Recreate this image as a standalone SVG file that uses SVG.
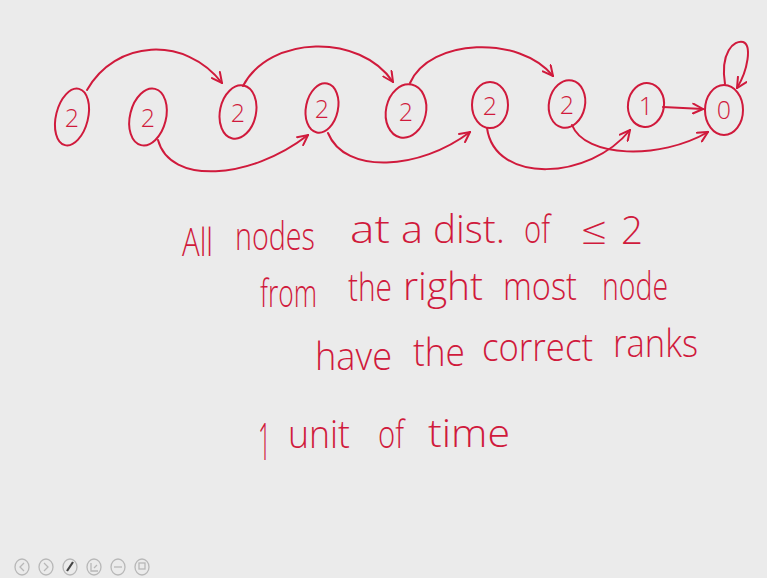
<svg xmlns="http://www.w3.org/2000/svg" width="767" height="578" viewBox="0 0 767 578">
<defs>
<style>
.n{fill:none;stroke:#d01a3c;stroke-width:2}
.c{fill:none;stroke:#d01a3c;stroke-width:2;stroke-linecap:round}
.lbl{font-family:"Open Sans","Liberation Sans",sans-serif;font-weight:300;font-size:25px;fill:#d01a3c;text-anchor:middle;dominant-baseline:central}
.t{font-family:"Open Sans","Liberation Sans",sans-serif;font-weight:300;font-size:38px;fill:#d01a3c}
.ic{fill:none;stroke:#b8b8b8;stroke-width:1.3}
</style>
<marker id="ah" viewBox="0 0 12 12" refX="11" refY="6" markerWidth="12" markerHeight="12" markerUnits="userSpaceOnUse" orient="auto">
<path d="M1,1 L11,6 L1,11" fill="none" stroke="#d01a3c" stroke-width="2" stroke-linecap="round"/>
</marker>
</defs>
<rect width="767" height="578" fill="#ebebeb"/>

<g id="connectors">
<path class="c" d="M87,90 C115,40 185,35 222,83" marker-end="url(#ah)"/>
<path class="c" d="M243,86 C270,35 360,33 393,82" marker-end="url(#ah)"/>
<path class="c" d="M410,83 C430,38 520,35 553,76" marker-end="url(#ah)"/>
<path class="c" d="M158,140 C170,185 250,180 308,135" marker-end="url(#ah)"/>
<path class="c" d="M328,133 C345,175 420,170 470,132" marker-end="url(#ah)"/>
<path class="c" d="M487,128 C495,185 590,180 630,130" marker-end="url(#ah)"/>
<path class="c" d="M572,125 C585,158 660,160 708,132" marker-end="url(#ah)"/>
<path class="c" d="M663,107 L703,109" marker-end="url(#ah)"/>
<path class="c" d="M725,84 C720,52 734,40 743,42 C752,45 748,70 737,88" marker-end="url(#ah)"/>
</g>

<g id="node1"><ellipse class="n" cx="72" cy="117" rx="16" ry="29" transform="rotate(14 72 117)"/><text class="lbl" x="72" y="117">2</text></g>
<g id="node2"><ellipse class="n" cx="148" cy="117" rx="18" ry="29" transform="rotate(14 148 117)"/><text class="lbl" x="148" y="117">2</text></g>
<g id="node3"><ellipse class="n" cx="238" cy="112" rx="18" ry="27" transform="rotate(12 238 112)"/><text class="lbl" x="238" y="112">2</text></g>
<g id="node4"><ellipse class="n" cx="322" cy="108" rx="16" ry="25" transform="rotate(12 322 108)"/><text class="lbl" x="322" y="108">2</text></g>
<g id="node5"><ellipse class="n" cx="406" cy="111" rx="20" ry="27" transform="rotate(12 406 111)"/><text class="lbl" x="406" y="111">2</text></g>
<g id="node6"><ellipse class="n" cx="490" cy="105" rx="18" ry="23"/><text class="lbl" x="490" y="105">2</text></g>
<g id="node7"><ellipse class="n" cx="567" cy="104" rx="18" ry="24" transform="rotate(12 567 104)"/><text class="lbl" x="567" y="104">2</text></g>
<g id="node8"><ellipse class="n" cx="646" cy="105" rx="18" ry="22" transform="rotate(8 646 105)"/><text class="lbl" x="646" y="105">1</text></g>
<g id="node9"><ellipse class="n" cx="724" cy="110" rx="19" ry="25"/><text class="lbl" x="724" y="109">0</text></g>

<g id="notes">
<text class="t" x="182" y="256" textLength="31" lengthAdjust="spacingAndGlyphs">All</text>
<text class="t" x="235" y="250" textLength="80" lengthAdjust="spacingAndGlyphs">nodes</text>
<text class="t" x="350" y="243" textLength="40" lengthAdjust="spacingAndGlyphs">at</text>
<text class="t" x="401" y="243" textLength="22" lengthAdjust="spacingAndGlyphs">a</text>
<text class="t" x="433" y="243" textLength="72" lengthAdjust="spacingAndGlyphs">dist.</text>
<text class="t" x="524" y="243" textLength="26" lengthAdjust="spacingAndGlyphs">of</text>
<text class="t" x="581" y="244" textLength="26" lengthAdjust="spacingAndGlyphs">≤</text>
<text class="t" x="621" y="244" textLength="22" lengthAdjust="spacingAndGlyphs">2</text>

<text class="t" x="260" y="307" textLength="57" lengthAdjust="spacingAndGlyphs">from</text>
<text class="t" x="348" y="301" textLength="44" lengthAdjust="spacingAndGlyphs">the</text>
<text class="t" x="403" y="300" textLength="80" lengthAdjust="spacingAndGlyphs">right</text>
<text class="t" x="503" y="300" textLength="74" lengthAdjust="spacingAndGlyphs">most</text>
<text class="t" x="602" y="300" textLength="66" lengthAdjust="spacingAndGlyphs">node</text>

<text class="t" x="315" y="370" textLength="77" lengthAdjust="spacingAndGlyphs">have</text>
<text class="t" x="413" y="366" textLength="52" lengthAdjust="spacingAndGlyphs">the</text>
<text class="t" x="482" y="361" textLength="111" lengthAdjust="spacingAndGlyphs">correct</text>
<text class="t" x="613" y="357" textLength="85" lengthAdjust="spacingAndGlyphs">ranks</text>

<text class="t" x="258" y="460" style="font-size:52px" textLength="13" lengthAdjust="spacingAndGlyphs">1</text>
<text class="t" x="288" y="448" textLength="62" lengthAdjust="spacingAndGlyphs">unit</text>
<text class="t" x="378" y="448" textLength="26" lengthAdjust="spacingAndGlyphs">of</text>
<text class="t" x="428" y="447" textLength="82" lengthAdjust="spacingAndGlyphs">time</text>
</g>

<g id="toolbar">
<ellipse class="ic" cx="22" cy="567" rx="7" ry="8"/><path class="ic" d="M24,563 L20,567 L24,571"/>
<ellipse class="ic" cx="46" cy="567" rx="7" ry="8"/><path class="ic" d="M44,563 L48,567 L44,571"/>
<ellipse class="ic" cx="70" cy="567" rx="7" ry="8"/><path d="M67,571 L73,562" stroke="#444" stroke-width="2.2" fill="none"/>
<ellipse class="ic" cx="94" cy="567" rx="7" ry="8"/><path class="ic" d="M91,563 L91,571 L98,571 M94,568 L97,565"/>
<ellipse class="ic" cx="118" cy="567" rx="7" ry="8"/><path class="ic" d="M114,567 L122,567"/>
<ellipse class="ic" cx="142" cy="567" rx="7" ry="8"/><rect class="ic" x="139" y="563" width="6" height="6"/>
</g>
</svg>
